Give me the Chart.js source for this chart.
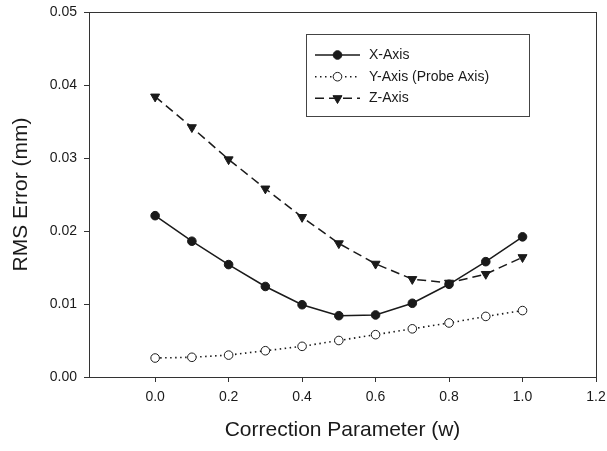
<!DOCTYPE html>
<html>
<head>
<meta charset="utf-8">
<script src="https://cdn.jsdelivr.net/npm/chart.js@4"></script>
<style>
  html, body { margin: 0; padding: 0; background: #fff; }
  canvas { display: block; }
</style>
</head>
<body>
<canvas id="chart" width="607" height="451"></canvas>
<script>
// correction parameter values (x)
const wValues = [0.0, 0.1, 0.2, 0.3, 0.4, 0.5, 0.6, 0.7, 0.8, 0.9, 1.0];

// RMS error per axis (mm)
const xAxisErr = [0.0221, 0.0186, 0.0154, 0.0124, 0.0099, 0.0084, 0.0085, 0.0101, 0.0127, 0.0158, 0.0192];
const yAxisErr = [0.0026, 0.0027, 0.0030, 0.0036, 0.0042, 0.0050, 0.0058, 0.0066, 0.0074, 0.0083, 0.0091];
const zAxisErr = [0.0384, 0.0342, 0.0298, 0.0258, 0.0219, 0.0183, 0.0155, 0.0134, 0.0129, 0.0141, 0.0164];

const seriesNames = ['X-Axis', 'Y-Axis (Probe Axis)', 'Z-Axis'];
const xTicks = [0.0, 0.2, 0.4, 0.6, 0.8, 1.0, 1.2];
const yTicks = [0.00, 0.01, 0.02, 0.03, 0.04, 0.05];

const ink = '#1a1a1a';
const FONT = '"Liberation Sans", Arial, sans-serif';

const toPoints = arr => arr.map((v, i) => ({ x: wValues[i], y: v }));

const styles = [
  { borderDash: [], pointStyle: 'circle', pointRadius: 4.3, fill: ink, rotation: 0 },
  { borderDash: [1.5, 3.5], pointStyle: 'circle', pointRadius: 4.3, fill: '#fff', rotation: 0 },
  { borderDash: [9, 5], pointStyle: 'triangle', pointRadius: 5.2, fill: ink, rotation: 180 }
];

// box frame around the plot area
const framePlugin = {
  id: 'frame',
  beforeDatasetsDraw(chart) {
    const { ctx, chartArea: a } = chart;
    ctx.save();
    ctx.strokeStyle = '#333';
    ctx.lineWidth = 1;
    ctx.strokeRect(Math.round(a.left) + 0.5, Math.round(a.top) + 0.5,
      Math.round(a.right - a.left), Math.round(a.bottom - a.top));
    ctx.restore();
  }
};

// legend box inside the plot
const legendPlugin = {
  id: 'innerLegend',
  afterDatasetsDraw(chart) {
    const { ctx } = chart;
    const box = { x: 306, y: 34, w: 223, h: 82 };
    ctx.save();
    ctx.fillStyle = '#fff';
    ctx.fillRect(box.x, box.y, box.w, box.h);
    ctx.strokeStyle = '#444';
    ctx.lineWidth = 1;
    ctx.strokeRect(box.x + 0.5, box.y + 0.5, box.w, box.h);
    const rows = [55, 76.7, 98.3];
    chart.data.datasets.forEach((ds, i) => {
      const y = rows[i];
      const st = styles[i];
      ctx.strokeStyle = ink;
      ctx.lineWidth = ds.borderWidth;
      ctx.setLineDash(st.borderDash);
      ctx.beginPath();
      ctx.moveTo(315, y);
      ctx.lineTo(360, y);
      ctx.stroke();
      ctx.setLineDash([]);
      ctx.lineWidth = 1;
      ctx.fillStyle = st.fill;
      Chart.helpers.drawPoint(ctx, {
        pointStyle: st.pointStyle, radius: st.pointRadius, rotation: st.rotation, borderWidth: 1
      }, 337.5, y);
      ctx.fillStyle = ink;
      ctx.font = '14px ' + FONT;
      ctx.textBaseline = 'middle';
      ctx.textAlign = 'left';
      ctx.fillText(ds.label, 369, y);
    });
    ctx.restore();
  }
};

new Chart(document.getElementById('chart'), {
  type: 'line',
  data: {
    datasets: [xAxisErr, yAxisErr, zAxisErr].map((arr, i) => ({
      label: seriesNames[i],
      data: toPoints(arr),
      borderColor: ink,
      borderWidth: i === 1 ? 1.6 : 1.5,
      borderDash: styles[i].borderDash,
      pointStyle: styles[i].pointStyle,
      pointRadius: styles[i].pointRadius,
      pointRotation: styles[i].rotation,
      pointBackgroundColor: styles[i].fill,
      pointBorderColor: ink,
      pointBorderWidth: 1,
      tension: 0
    }))
  },
  options: {
    responsive: false,
    animation: false,
    devicePixelRatio: 1,
    layout: { padding: { top: 12, right: 11, left: 0, bottom: 0 } },
    plugins: { legend: { display: false }, tooltip: { enabled: false } },
    scales: {
      x: {
        type: 'linear',
        min: -0.18,
        max: 1.2,
        afterFit: s => { s.height = 74; s.paddingLeft = 0; s.paddingRight = 0; },
        afterBuildTicks: s => { s.ticks = xTicks.map(v => ({ value: v })); },
        border: { display: false },
        grid: { drawOnChartArea: false, tickLength: 5, color: '#333', tickWidth: 1 },
        ticks: {
          padding: 7, color: ink, font: { family: FONT, size: 14 },
          callback: v => Number(v).toFixed(1), maxRotation: 0
        },
        title: {
          display: true, text: 'Correction Parameter (w)', color: ink,
          font: { family: FONT, size: 21 }, padding: { top: 0, bottom: 8 }
        }
      },
      y: {
        type: 'linear',
        min: 0,
        max: 0.05,
        afterFit: s => { s.width = 89; s.paddingTop = 0; s.paddingBottom = 0; },
        afterBuildTicks: s => { s.ticks = yTicks.map(v => ({ value: v })); },
        border: { display: false },
        grid: { drawOnChartArea: false, tickLength: 5, color: '#333', tickWidth: 1 },
        ticks: {
          padding: 7, color: ink, font: { family: FONT, size: 14 },
          callback: v => Number(v).toFixed(2)
        },
        title: {
          display: true, text: 'RMS Error (mm)', color: ink,
          font: { family: FONT, size: 21 }, padding: { top: 9, bottom: 0 }
        }
      }
    }
  },
  plugins: [framePlugin, legendPlugin]
});
</script>
</body>
</html>
